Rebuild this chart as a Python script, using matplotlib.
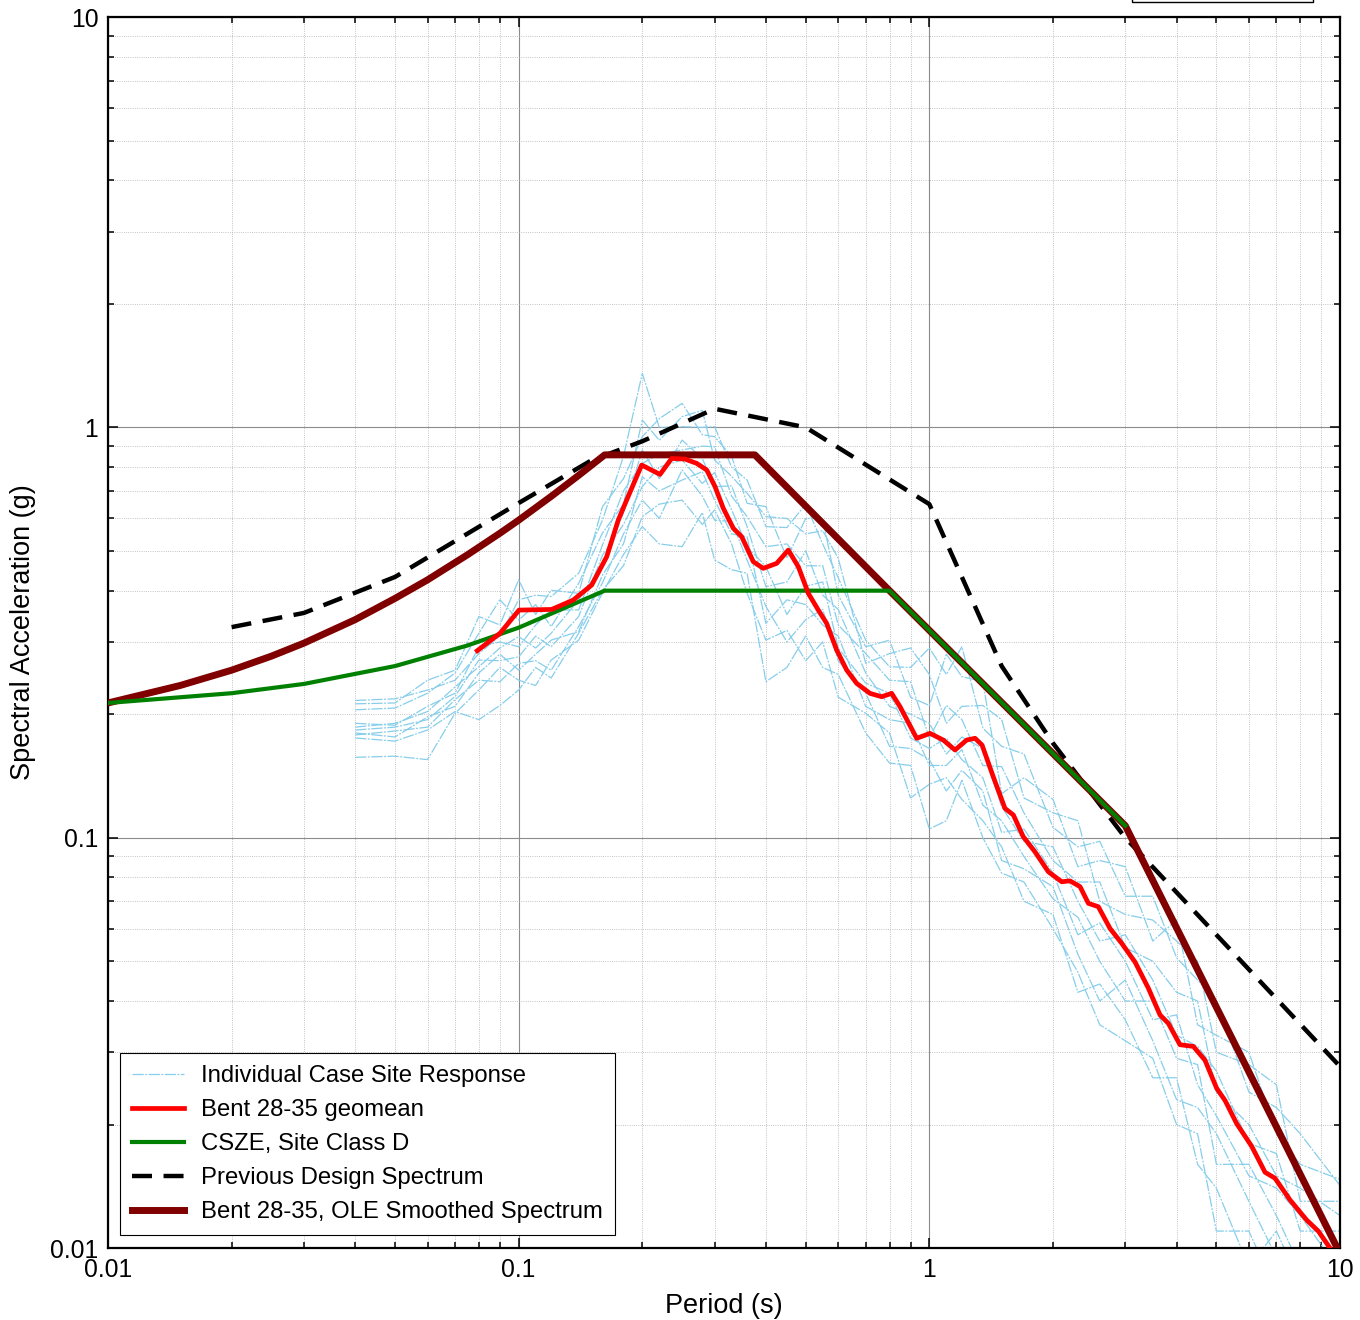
import matplotlib
matplotlib.use("Agg")
import matplotlib.pyplot as plt
from matplotlib.patches import Rectangle
from matplotlib.ticker import FuncFormatter, LogLocator, NullFormatter

plt.rcParams['font.family'] = ['Liberation Sans', 'DejaVu Sans']

# periods shared by all individual site response cases
case_periods = [0.04, 0.05, 0.06, 0.07, 0.08, 0.09, 0.10, 0.11, 0.12, 0.14,
                0.16, 0.18, 0.20, 0.22, 0.25, 0.28, 0.30, 0.33, 0.36, 0.40,
                0.45, 0.50, 0.55, 0.60, 0.70, 0.80, 0.90, 1.0, 1.1, 1.2,
                1.35, 1.5, 1.7, 2.0, 2.3, 2.6, 3.0, 3.5, 4.0, 4.5,
                5.0, 6.0, 7.0, 8.0, 10.0]

case_a = [.216, .218, .229, .242, .281, .31, .380, .39, .387, .441,
          .594, .85, 1.354, 1.0, 1.004, 1.0, 1.004, .80, .744, .573,
          .57, .65, .52, .43, .303, .261, .26, .29, .25, .292,
          .185, .167, .16, .106, .095, .098, .072, .072, .051, .045,
          .040, .024, .022, .019, .0142]
case_b = [.212, .213, .242, .256, .346, .33, .425, .35, .401, .394,
          .641, .75, .949, 1.05, 1.144, .96, .949, .85, .653, .641,
          .48, .60, .60, .39, .292, .303, .22, .21, .28, .247,
          .24, .128, .14, .124, .085, .088, .085, .056, .063, .035,
          .033, .030, .019, .016, .0147]
case_c = [.205, .207, .225, .252, .315, .38, .339, .37, .327, .417,
          .553, .65, 1.042, .93, 1.062, 1.10, .833, .76, .691, .606,
          .60, .55, .56, .48, .266, .281, .29, .25, .19, .209,
          .21, .194, .125, .115, .11, .07, .065, .063, .056, .05,
          .030, .028, .025, .013, .013]
case_d = [.190, .188, .209, .225, .292, .30, .292, .33, .359, .359,
          .517, .70, .817, .86, .881, .90, .897, .68, .606, .512,
          .52, .46, .46, .33, .281, .242, .24, .175, .21, .194,
          .15, .149, .115, .088, .078, .078, .054, .05, .042, .04,
          .024, .020, .015, .014, .012]
case_e = [.186, .190, .203, .233, .261, .29, .309, .29, .315, .380,
          .462, .62, .881, .75, .931, .84, .717, .72, .573, .409,
          .42, .50, .39, .36, .252, .209, .20, .19, .16, .176,
          .165, .119, .098, .095, .07, .056, .058, .045, .033, .031,
          .027, .018, .017, .011, .011]
case_f = [.183, .186, .194, .221, .271, .27, .276, .31, .292, .346,
          .488, .58, .717, .80, .833, .73, .776, .63, .512, .458,
          .35, .41, .42, .29, .238, .225, .175, .165, .175, .155,
          .14, .103, .105, .082, .058, .062, .05, .036, .037, .025,
          .021, .015, .014, .012, .0088]
case_g = [.180, .176, .197, .209, .252, .28, .256, .28, .303, .318,
          .437, .52, .758, .70, .744, .78, .665, .55, .541, .333,
          .38, .37, .33, .31, .209, .194, .19, .15, .15, .164,
          .12, .110, .09, .071, .064, .05, .04, .04, .029, .028,
          .016, .016, .012, .009, .0095]
case_h = [.178, .182, .186, .217, .242, .24, .266, .27, .256, .327,
          .418, .55, .665, .60, .787, .68, .594, .59, .475, .366,
          .30, .34, .36, .27, .225, .167, .165, .155, .13, .146,
          .13, .088, .084, .076, .052, .04, .045, .032, .023, .022,
          .019, .013, .0095, .0098, .0078]
case_i = [.175, .172, .183, .203, .194, .21, .229, .26, .245, .315,
          .401, .46, .606, .65, .665, .58, .629, .52, .394, .303,
          .32, .27, .30, .22, .201, .180, .125, .135, .14, .124,
          .11, .095, .07, .065, .042, .044, .036, .026, .026, .016,
          .014, .009, .011, .0082, .006]
case_j = [.157, .158, .155, .201, .229, .26, .242, .235, .271, .303,
          .395, .49, .573, .52, .512, .62, .475, .45, .441, .24,
          .26, .31, .26, .25, .180, .152, .15, .105, .11, .138,
          .10, .082, .078, .060, .047, .035, .032, .029, .020, .019,
          .011, .011, .0078, .007, .007]
cases = [case_a, case_b, case_c, case_d, case_e,
         case_f, case_g, case_h, case_i, case_j]

# geometric mean of the cases
geo_T = [0.0793, 0.0901, 0.1002, 0.1203, 0.1358, 0.1506, 0.1638, 0.1748, 0.1832,
         0.1993, 0.2209, 0.2358, 0.2541, 0.2714, 0.2871, 0.3008, 0.315, 0.3332,
         0.3493, 0.3727, 0.394, 0.4249, 0.4535, 0.4797, 0.5074, 0.5366, 0.5623,
         0.5948, 0.629, 0.6654, 0.717, 0.7656, 0.8095, 0.8485, 0.9315, 1.004,
         1.081, 1.155, 1.233, 1.292, 1.344, 1.431, 1.528, 1.602, 1.693, 1.808,
         1.949, 2.101, 2.2, 2.328, 2.439, 2.579, 2.754, 2.94, 3.168, 3.414,
         3.645, 3.818, 4.077, 4.394, 4.69, 5.009, 5.248, 5.603, 6.095, 6.568,
         6.945, 7.555, 8.296, 8.853, 9.455]
geo_Sa = [0.2856, 0.315, 0.3587, 0.360, 0.3795, 0.4128, 0.4838, 0.5943, 0.665,
          0.8095, 0.768, 0.840, 0.837, 0.817, 0.787, 0.7166, 0.635, 0.5675,
          0.5413, 0.4706, 0.4534, 0.4662, 0.5023, 0.4575, 0.394, 0.3587, 0.333,
          0.2867, 0.2563, 0.2378, 0.2248, 0.2206, 0.2248, 0.2086, 0.1747, 0.1796,
          0.173, 0.1636, 0.173, 0.1747, 0.1682, 0.1408, 0.1179, 0.1136, 0.1006, 0.0924,
          0.0826, 0.0781, 0.0785, 0.0760, 0.0692, 0.0679, 0.0601, 0.0553, 0.0498, 0.0430,
          0.0370, 0.0353, 0.0313, 0.0310, 0.0287, 0.0245, 0.0229, 0.0201, 0.0177, 0.0153,
          0.0148, 0.0131, 0.0117, 0.0110, 0.0100]

# CSZE code spectrum, site class D
csze_T = [0.01, 0.02, 0.03, 0.05, 0.075, 0.1, 0.162, 0.8, 3.0]
csze_Sa = [0.213, 0.225, 0.237, 0.262, 0.294, 0.325, 0.40, 0.40, 0.107]

# previous design spectrum
prev_T = [0.02, 0.03, 0.05, 0.1, 0.15, 0.2, 0.3, 0.5, 1.0, 1.5, 2.0, 3.0, 10.0]
prev_Sa = [0.326, 0.353, 0.432, 0.654, 0.83, 0.925, 1.11, 1.0, 0.65, 0.262, 0.17, 0.10, 0.0277]

# OLE smoothed spectrum
ole_T = [0.01, 0.015, 0.02, 0.025, 0.03, 0.04, 0.05, 0.06, 0.075, 0.09,
         0.1, 0.12, 0.14, 0.162, 0.376, 0.8, 3.0, 10.0]
ole_Sa = [0.213, 0.235, 0.256, 0.277, 0.298, 0.340, 0.383, 0.425, 0.489, 0.552,
          0.594, 0.679, 0.764, 0.857, 0.857, 0.40, 0.107, 0.0097]

fig = plt.figure(figsize=(13.6, 13.2), dpi=100)
ax = fig.add_axes([0.0794, 0.0545, 0.9059, 0.9326])

h_case = None
for sa in cases:
    h_case, = ax.plot(case_periods, sa, color='#87CEEB', lw=0.9,
                      ls=(0, (9, 1.2, 1.5, 1.2)), zorder=2)
h_prev, = ax.plot(prev_T, prev_Sa, color='black', lw=3.2, ls=(0, (4.5, 2.6)), zorder=3)
h_ole, = ax.plot(ole_T, ole_Sa, color='#800000', lw=5.0, zorder=4)
h_csze, = ax.plot(csze_T, csze_Sa, color='#008000', lw=3.0, zorder=5)
h_geo, = ax.plot(geo_T, geo_Sa, color='#FF0000', lw=3.4, zorder=6)

ax.set_xscale('log')
ax.set_yscale('log')
ax.set_xlim(0.01, 10)
ax.set_ylim(0.01, 10)

fmt = FuncFormatter(lambda v, pos: '%g' % v)
for axis in (ax.xaxis, ax.yaxis):
    axis.set_major_locator(LogLocator(base=10))
    axis.set_minor_locator(LogLocator(base=10, subs=range(2, 10)))
    axis.set_major_formatter(fmt)
    axis.set_minor_formatter(NullFormatter())

ax.grid(True, which='major', color='#8c8c8c', lw=0.8, ls='-')
ax.grid(True, which='minor', color='#b0b0b0', lw=0.6, ls=':')
ax.tick_params(which='both', direction='in', top=True, right=True,
               labelsize=17.8, width=1.1)
ax.tick_params(which='major', length=7, pad=7)
ax.tick_params(which='minor', length=4)
for s in ax.spines.values():
    s.set_linewidth(1.6)

ax.set_xlabel('Period (s)', fontsize=19.5, labelpad=8)
ax.set_ylabel('Spectral Acceleration (g)', fontsize=19.5, labelpad=10)

leg = ax.legend([h_case, h_geo, h_csze, h_prev, h_ole],
                ['Individual Case Site Response', 'Bent 28-35 geomean',
                 'CSZE, Site Class D', 'Previous Design Spectrum',
                 'Bent 28-35, OLE Smoothed Spectrum'],
                loc='lower left', bbox_to_anchor=(0.0097, 0.0106), borderaxespad=0,
                fontsize=17.2, fancybox=False, edgecolor='black', framealpha=1,
                handlelength=2.2, handletextpad=0.7, labelspacing=0.5,
                borderpad=0.5)
leg.get_frame().set_linewidth(0.8)

# bottom edge of the header box sitting above the plot
fig.add_artist(Rectangle((0.8324, 0.9985), 0.1331, 0.02, transform=fig.transFigure,
                         fill=False, lw=1.0, ec='black'))

fig.savefig('out.png', dpi=100)
